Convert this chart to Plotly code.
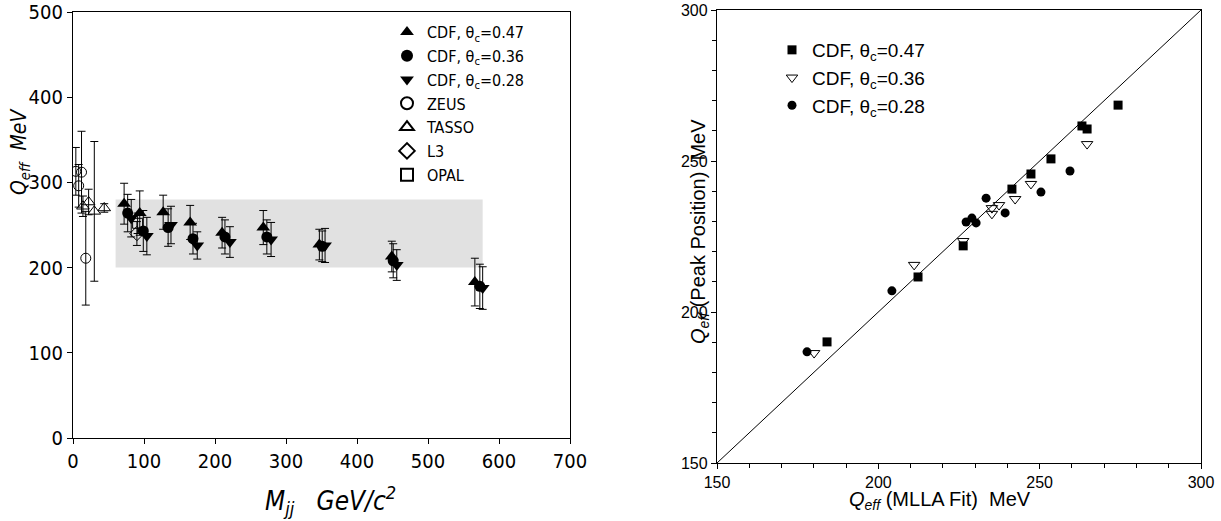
import plotly.graph_objects as go

# ---------------- Left panel data: Q_eff vs Mjj ----------------
cdf47_m = [72, 94, 127, 165, 210, 268, 347, 449, 566]
cdf47_q = [275, 264, 265, 253, 241, 247, 227, 213, 183]
cdf47_e = [24, 26, 20, 20, 18, 20, 18, 18, 28]

cdf36_m = [77, 99, 134, 169, 214, 273, 351, 451, 573]
cdf36_q = [264, 243, 247, 234, 236, 236, 225, 208, 178]
cdf36_e = [22, 24, 22, 18, 20, 20, 18, 20, 26]

cdf28_m = [82, 104, 138, 175, 221, 279, 355, 456, 577]
cdf28_q = [258, 237, 250, 226, 230, 233, 226, 203, 176]
cdf28_e = [22, 22, 22, 16, 18, 20, 20, 18, 25]

zeus_m = [4, 8, 12, 18]
zeus_q = [313, 296, 312, 211]
zeus_e = [28, 25, 48, 55]

tasso_m = [14, 22, 30, 44]
tasso_q = [272, 277, 266, 270]
tasso_e = [12, 15, 82, 5]

l3_m = [90]
l3_q = [240]
l3_e = [14]

opal_m = [91]
opal_q = [252]
opal_e = [12]

band_x = [60, 577]
band_y = [200, 280]

# ---------------- Right panel data: peak position vs MLLA fit ----------------
r47_x = [184.1, 212.3, 226.3, 241.4, 247.3, 253.5, 263.1, 264.7, 274.3]
r47_y = [190.1, 211.6, 221.9, 240.7, 245.7, 250.7, 261.6, 260.6, 268.5]

r36_x = [180.1, 211.1, 226.3, 235.2, 235.2, 237.4, 242.4, 247.3, 264.7]
r36_y = [186.4, 215.6, 223.5, 234.4, 232.5, 235.4, 237.4, 242.4, 255.6]

r28_x = [177.9, 204.2, 227.2, 229.0, 230.3, 233.4, 239.3, 250.4, 259.4]
r28_y = [186.8, 207.0, 229.8, 231.1, 229.5, 237.7, 232.8, 239.7, 246.7]

diag = [150, 300]

FONT = "Liberation Sans Narrow, DejaVu Sans Condensed, Liberation Sans, Arial, sans-serif"
FONT2 = "Liberation Sans, Arial, sans-serif"

W, H = 1221, 521


def px(x):
    return x / W


def py(y):
    return 1 - y / H


fig = go.Figure()


def eb(arr):
    return dict(type="data", array=arr, visible=True, color="black", thickness=1, width=4)


left_series = [
    ("CDF, θ<sub>c</sub>=0.47", cdf47_m, cdf47_q, cdf47_e, "triangle-up", 12),
    ("CDF, θ<sub>c</sub>=0.36", cdf36_m, cdf36_q, cdf36_e, "circle", 11),
    ("CDF, θ<sub>c</sub>=0.28", cdf28_m, cdf28_q, cdf28_e, "triangle-down", 12),
    ("ZEUS", zeus_m, zeus_q, zeus_e, "circle-open", 10),
    ("TASSO", tasso_m, tasso_q, tasso_e, "triangle-up-open", 11),
    ("L3", l3_m, l3_q, l3_e, "diamond-open", 11),
    ("OPAL", opal_m, opal_q, opal_e, "square-open", 10),
]
for name, xs, ys, es, sym, sz in left_series:
    if sym.endswith("open"):
        mk = dict(symbol=sym, size=sz, color="black", line=dict(color="black", width=1))
    else:
        mk = dict(symbol=sym, size=sz, color="black", line=dict(width=0))
    fig.add_trace(go.Scatter(
        x=xs, y=ys, mode="markers", name=name, error_y=eb(es), marker=mk,
        xaxis="x", yaxis="y", legend="legend",
    ))

# Right panel
fig.add_trace(go.Scatter(x=diag, y=diag, mode="lines", line=dict(color="black", width=1),
                         showlegend=False, xaxis="x2", yaxis="y2", hoverinfo="skip"))
right_series = [
    ("CDF, θ<sub>c</sub>=0.47", r47_x, r47_y, "square", 9),
    ("CDF, θ<sub>c</sub>=0.36", r36_x, r36_y, "triangle-down-open", 10),
    ("CDF, θ<sub>c</sub>=0.28", r28_x, r28_y, "circle", 9),
]
for name, xs, ys, sym, sz in right_series:
    if sym.endswith("open"):
        mk = dict(symbol=sym, size=sz, color="black", line=dict(color="black", width=1))
    else:
        mk = dict(symbol=sym, size=sz, color="black", line=dict(width=0))
    fig.add_trace(go.Scatter(x=xs, y=ys, mode="markers", name=name, marker=mk,
                             xaxis="x2", yaxis="y2", legend="legend2"))

# grey band
fig.add_shape(type="rect", xref="x", yref="y", x0=band_x[0], x1=band_x[1],
              y0=band_y[0], y1=band_y[1], fillcolor="#e1e1e1", line=dict(width=0), layer="below")

axis_common = dict(showgrid=False, zeroline=False, showline=True, linecolor="black",
                   linewidth=1.3, mirror=True, ticks="outside", tickcolor="black",
                   ticklen=5, automargin=False, ticklabeloverflow="allow")

fig.update_layout(
    width=W, height=H,
    margin=dict(l=0, r=0, t=0, b=0, autoexpand=False),
    paper_bgcolor="white", plot_bgcolor="white",
    font=dict(family=FONT2, color="black"),
    xaxis=dict(domain=[px(73), px(570)], range=[0, 700], dtick=100,
               tickfont=dict(size=20, family=FONT), anchor="y", **axis_common),
    yaxis=dict(domain=[py(438), py(12)], range=[0, 500], dtick=100,
               tickfont=dict(size=20, family=FONT), anchor="x", **axis_common),
    xaxis2=dict(domain=[px(717), px(1201)], range=[150, 300], dtick=50,
                tickfont=dict(size=16, family=FONT2), anchor="y2",
                minor=dict(dtick=10, ticks="outside", ticklen=4, tickcolor="black"),
                **axis_common),
    yaxis2=dict(domain=[py(463), py(10)], range=[150, 300], dtick=50,
                tickfont=dict(size=16, family=FONT2), anchor="x2",
                minor=dict(dtick=10, ticks="outside", ticklen=4, tickcolor="black"),
                **axis_common),
    legend=dict(x=px(387), y=py(15), xanchor="left", yanchor="top",
                bgcolor="rgba(0,0,0,0)", font=dict(size=16, family=FONT),
                itemsizing="constant"),
    legend2=dict(x=px(772), y=py(31), xanchor="left", yanchor="top",
                 bgcolor="rgba(0,0,0,0)", font=dict(size=19, family=FONT2)),
    showlegend=True,
)

ann_common = dict(xref="paper", yref="paper", showarrow=False,
                  xanchor="center", yanchor="middle")
fig.add_annotation(text="<i>Q<sub>eff</sub>  MeV</i>", x=px(20), y=py(152), textangle=-90,
                   font=dict(size=21, family=FONT), **ann_common)
fig.add_annotation(text="<i>M<sub>jj</sub>   GeV/c<sup>2</sup></i>", x=px(330), y=py(500),
                   font=dict(size=26, family=FONT), **ann_common)
fig.add_annotation(text="<i>Q<sub>eff</sub></i> (MLLA Fit)  MeV", x=px(940), y=py(500),
                   font=dict(size=20, family=FONT2), **ann_common)
fig.add_annotation(text="<i>Q<sub>eff</sub></i> (Peak Position)  MeV", x=px(700), y=py(232),
                   textangle=-90, font=dict(size=20, family=FONT2), **ann_common)

fig.write_html("out.html", config={"displayModeBar": False},
               post_script="document.body.style.margin='0';")
